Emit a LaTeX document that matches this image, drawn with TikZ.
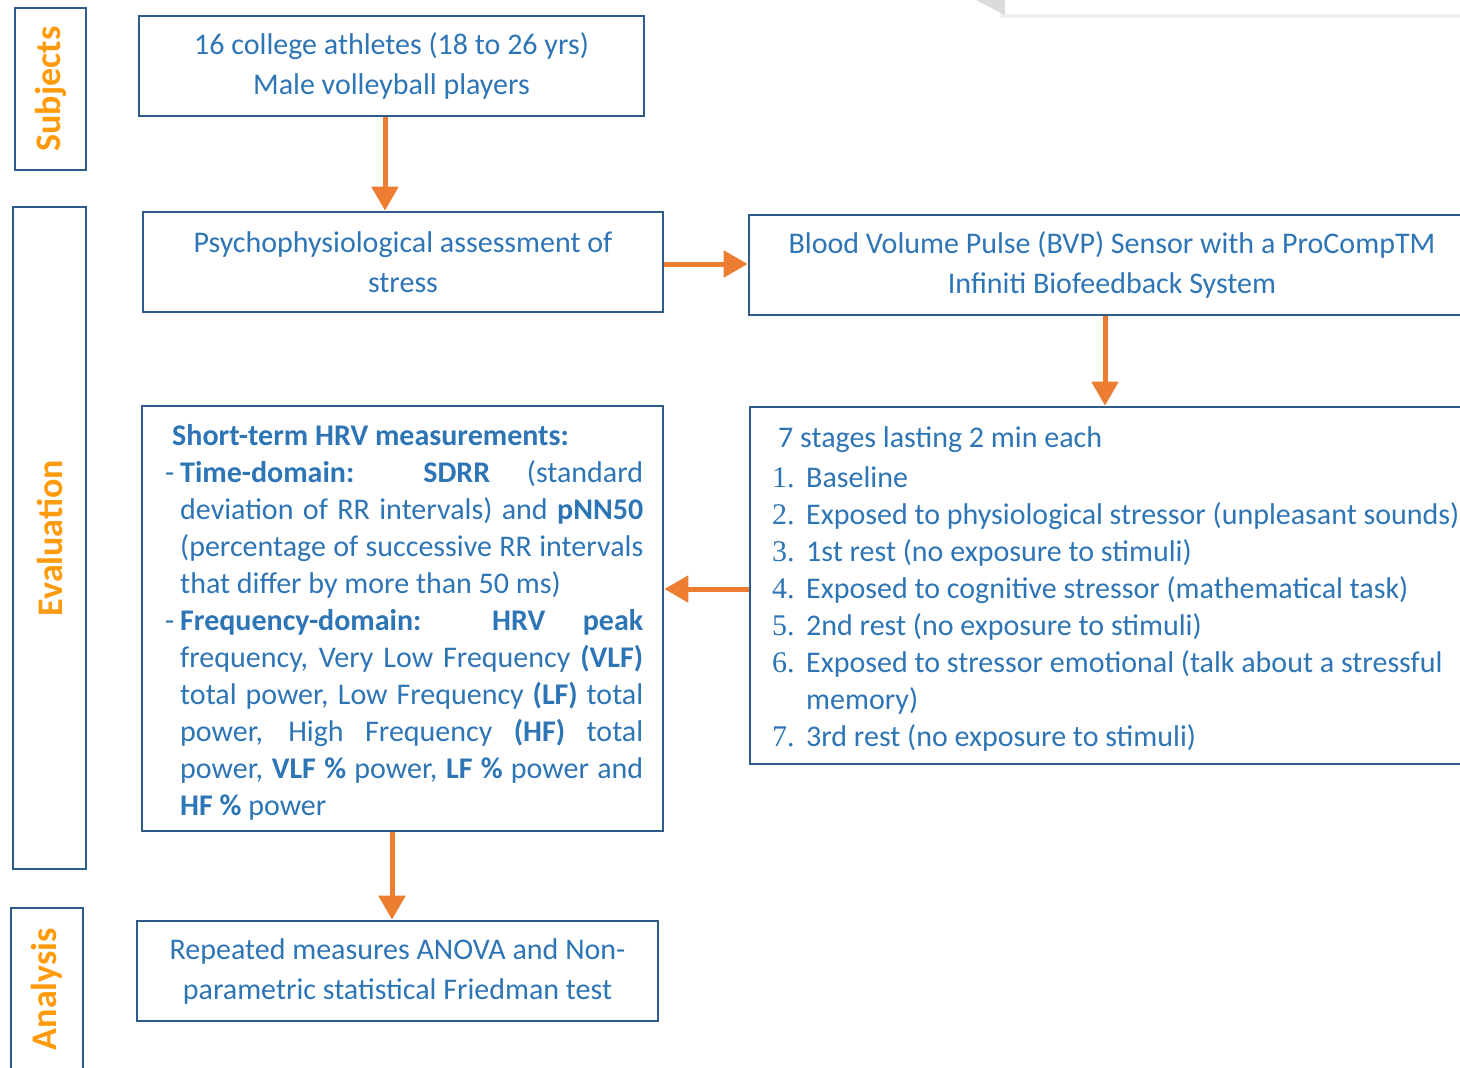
\documentclass[tikz,border=0pt]{standalone}
\usepackage{fontspec}
\setmainfont{Carlito}
\newfontfamily\numfont{Liberation Serif}
\usetikzlibrary{arrows.meta,calc}
\definecolor{boxblue}{HTML}{2F5B8A}
\definecolor{txtblue}{HTML}{2E75B6}
\definecolor{arrorange}{HTML}{ED7D31}
\definecolor{lblorange}{HTML}{FF9A0A}
\newcommand\stnum[1]{\makebox[34pt][l]{\numfont #1}}
\newcommand\jline[1]{\hspace*{15pt}\makebox[463pt][s]{#1}}
\newcommand\dline[1]{\makebox[15pt][l]{-}\makebox[463pt][s]{#1}}
\begin{document}
\begin{tikzpicture}[x=1pt,y=-1pt,
  box/.style={draw=boxblue, line width=2.6pt, text=txtblue, align=center, inner sep=0pt, font=\fontsize{30}{40}\selectfont},
  lbl/.style={draw=boxblue, line width=2.6pt, text=lblorange, inner sep=0pt, font=\fontsize{36}{40}\selectfont\bfseries},
  arr/.style={draw=arrorange, line width=5pt, -{Triangle[width=26pt,length=24pt]}},
  txt/.style={text=txtblue, inner sep=0pt, align=left, font=\fontsize{30}{37}\selectfont}
]
\clip (0,0) rectangle (1460,1068);
\fill[white] (0,0) rectangle (1460,1068);
% partial shadowed frame at top right
\fill[black!6] (1000,0) rectangle (1460,18);
\fill[black!14] (976,0) -- (1005,0) -- (1005,15) -- cycle;
\fill[white] (1005,0) rectangle (1460,14);

% phase labels
\node[lbl, rotate=90, minimum width=162, minimum height=71] (l1) at (50.5,89) {Subjects};
\node[lbl, rotate=90, minimum width=662, minimum height=73] (l2) at (49.5,538) {Evaluation};
\node[lbl, rotate=90, minimum width=162, minimum height=72] (l3) at (47,989) {Analysis};

% boxes
\node[box, minimum width=505, minimum height=100] (b1) at (391.5,66) {16 college athletes (18 to 26 yrs)\\Male volleyball players};
\node[box, minimum width=520, minimum height=100] (b2) at (403,262) {Psychophysiological assessment of\\stress};
\node[box, minimum width=726, minimum height=100] (b3) at (1112,265) {Blood Volume Pulse (BVP) Sensor with a ProCompTM\\Infiniti Biofeedback System};
\node[box, minimum width=730, minimum height=357] (b4) at (1115,585.5) {};
\node[box, minimum width=521, minimum height=425] (b5) at (402.5,618.5) {};
\node[box, minimum width=521, minimum height=100] (b6) at (397.5,971) {\raisebox{-2pt}{Repeated measures ANOVA and Non-}\\\raisebox{-2pt}{parametric statistical Friedman test}};

% stages text
\node[txt, anchor=north west] (t4) at (772,426) {\hspace*{6pt}7 stages lasting 2 min each\\[3pt]
\stnum{1.}Baseline\\
\stnum{2.}Exposed to physiological stressor (unpleasant sounds)\\
\stnum{3.}1st rest (no exposure to stimuli)\\
\stnum{4.}Exposed to cognitive stressor (mathematical task)\\
\stnum{5.}2nd rest (no exposure to stimuli)\\
\stnum{6.}Exposed to stressor emotional (talk about a stressful\\
\hspace*{34pt}memory)\\
\stnum{7.}3rd rest (no exposure to stimuli)};

% HRV text
\node[txt, anchor=north west] (t5) at (165,424) {\hspace*{7pt}\textbf{Short-term HRV measurements:}\\
\dline{\textbf{Time-domain:} \textbf{SDRR} (standard}\\
\jline{deviation of RR intervals) and \textbf{pNN50}}\\
\jline{(percentage of successive RR intervals}\\
\hspace*{15pt}that differ by more than 50 ms)\\
\dline{\textbf{Frequency-domain:} \textbf{HRV} \textbf{peak}}\\
\jline{frequency, Very Low Frequency \textbf{(VLF)}}\\
\jline{total power, Low Frequency \textbf{(LF)} total}\\
\jline{power, High Frequency \textbf{(HF)} total}\\
\jline{power, \textbf{VLF \%} power, \textbf{LF \%} power and}\\
\hspace*{15pt}\textbf{HF \%} power};

% connectors
\coordinate (a1) at ([xshift=-6.5pt]b1.south);
\coordinate (a3) at ([xshift=-7pt]b3.south);
\coordinate (a4) at ([yshift=-3.5pt]b4.west);
\coordinate (a5) at ([xshift=-10.5pt]b5.south);
\draw[arr] (a1) -- (a1 |- b2.north);
\draw[arr] ([yshift=-2pt]b2.east) -- ([yshift=-2pt]b2.east -| b3.west);
\draw[arr] (a3) -- (a3 |- b4.north);
\draw[arr] (a4) -- (a4 -| b5.east);
\draw[arr] (a5) -- (a5 |- b6.north);
\end{tikzpicture}
\end{document}
